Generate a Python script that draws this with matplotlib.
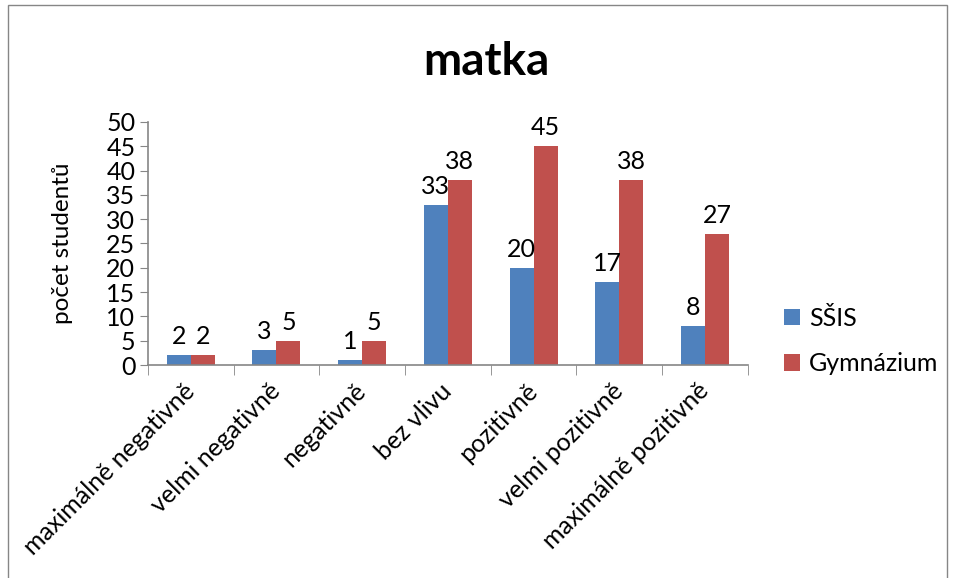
import matplotlib
matplotlib.use("Agg")
import matplotlib.pyplot as plt
import numpy as np
from matplotlib.patches import Patch, Rectangle

plt.rcParams["font.family"] = ["Lato", "DejaVu Sans"]

categories = [
    "maximálně negativně",
    "velmi negativně",
    "negativně",
    "bez vlivu",
    "pozitivně",
    "velmi pozitivně",
    "maximálně pozitivně",
]
ssis = [2, 3, 1, 33, 20, 17, 8]
gymnazium = [2, 5, 5, 38, 45, 38, 27]
series_names = ["SŠIS", "Gymnázium"]
colors = ["#4F81BD", "#C0504D"]
axis_grey = "#868686"
fs = 18

fig = plt.figure(figsize=(9.54, 5.78), dpi=100)
ax = fig.add_axes([0.155, 0.3685, 0.629, 0.4205])

x = np.arange(len(categories))
width = 0.28
for offset, values, color in ((-width / 2, ssis, colors[0]), (width / 2, gymnazium, colors[1])):
    bars = ax.bar(x + offset, values, width, color=color)
    for bar, v in zip(bars, values):
        ax.annotate(str(v), (bar.get_x() + bar.get_width() / 2, v),
                    xytext=(0, 5), textcoords="offset points",
                    ha="center", va="bottom", fontsize=fs)

ax.set_xlim(-0.5, len(categories) - 0.5)
ax.set_ylim(0, 50)
ax.set_yticks(np.arange(0, 51, 5))
ax.tick_params(axis="y", labelsize=fs, length=6, color=axis_grey, direction="out", pad=3)

# category labels sit at centres, tick marks at the group boundaries
ax.set_xticks(x)
ax.set_xticklabels(categories, rotation=45, ha="right", va="center",
                   rotation_mode="anchor", fontsize=fs)
ax.tick_params(axis="x", which="major", length=0, pad=16)
ax.set_xticks(np.arange(-0.5, len(categories), 1), minor=True)
ax.tick_params(axis="x", which="minor", length=7, color=axis_grey, direction="out")

for side in ("top", "right"):
    ax.spines[side].set_visible(False)
for side in ("left", "bottom"):
    ax.spines[side].set_color(axis_grey)
    ax.spines[side].set_linewidth(1.2)

ax.set_ylabel("počet studentů", fontsize=17.5)
ax.yaxis.set_label_coords(-0.125, 0.5)

fig.text(0.51, 0.893, "matka", ha="center", va="center", fontsize=33, fontweight="bold")

handles = [Patch(facecolor=c, edgecolor="none") for c in colors]
fig.legend(handles, series_names, loc="center left", bbox_to_anchor=(0.822, 0.41),
           frameon=False, fontsize=fs, handlelength=0.65, handleheight=0.65,
           handletextpad=0.35, labelspacing=0.9, borderpad=0, borderaxespad=0)

fig.add_artist(Rectangle((8 / 954, -0.01), 939 / 954, 0.9995 - 5 / 578 + 0.01,
                         transform=fig.transFigure, fill=False,
                         edgecolor=axis_grey, linewidth=1.0))

fig.savefig("out.png", dpi=100)
